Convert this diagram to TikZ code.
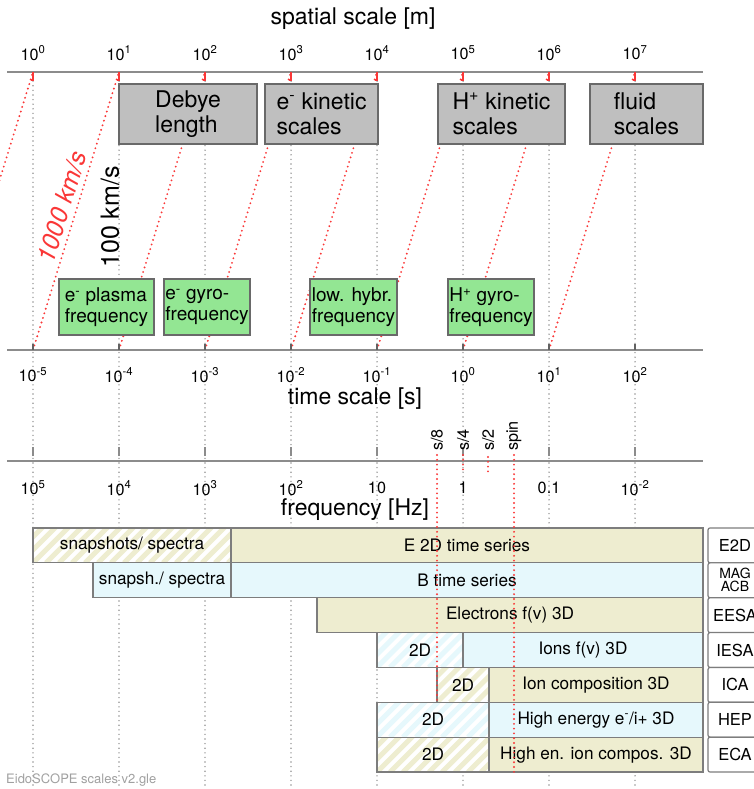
\documentclass[tikz,border=0pt]{standalone}
\usepackage{fontspec}
\setmainfont{TeX Gyre Heros}
\usetikzlibrary{positioning}
\definecolor{scalegray}{RGB}{191,191,191}
\definecolor{freqgreen}{RGB}{147,230,147}
\definecolor{boxline}{RGB}{105,105,105}
\definecolor{barline}{RGB}{125,125,125}
\definecolor{beigefill}{RGB}{238,237,208}
\definecolor{bluefill}{RGB}{230,248,252}
\definecolor{gridgray}{RGB}{150,150,150}
\definecolor{axisgray}{RGB}{140,140,140}
\definecolor{vred}{RGB}{250,55,55}
\definecolor{footgray}{RGB}{160,160,160}
\newcommand{\tenexp}[1]{10\textsuperscript{#1}}

\begin{document}
\begin{tikzpicture}[x=1pt, y=-1pt,
	scalebox/.style={draw=boxline, fill=scalegray, line width=1.2pt, minimum height=60pt, align=left, inner sep=1pt, font=\fontsize{23}{25}\selectfont},
	freqbox/.style={draw=boxline, fill=freqgreen, line width=1.2pt, minimum height=56pt, align=left, inner sep=1pt, font=\fontsize{19}{21}\selectfont},
	instbar/.style={draw=barline, line width=1.2pt, minimum height=34.86pt, inner sep=0pt, font=\fontsize{17.2}{19}\selectfont},
	hatch/.style={fill=white, path picture={\foreach \k in {-4,...,17} \draw[#1, line width=5pt] ([xshift=\k*13pt]path picture bounding box.south west) -- ++(45pt,45pt);}},
	instname/.style={draw=barline, fill=white, line width=1.2pt, rounded corners=2pt, minimum width=54pt, minimum height=34.86pt, inner sep=0pt, align=center, font=\fontsize{16.5}{18}\selectfont},
	gridline/.style={draw=gridgray, line width=1.6pt, line cap=round, dash pattern=on 0pt off 4.6pt},
	redline/.style={draw=vred, line width=2.1pt, line cap=round, dash pattern=on 0pt off 4.8pt},
	scaleaxis/.style={draw=axisgray, line width=1.4pt},
	ticklabel/.style={font=\fontsize{16.2}{18}\selectfont, inner sep=0pt},
	axistitle/.style={font=\fontsize{23}{25}\selectfont, inner sep=0pt},
]
	\useasboundingbox (0,0) rectangle (754,789);
	\clip (0,0) rectangle (754,789);
	% Decade points on the three axes:
	\foreach \k in {0,...,7}{
		\coordinate (s\k) at ({33+86*\k},72);
		\coordinate (t\k) at ({33+86*\k},350);
		\coordinate (f\k) at ({33+86*\k},461);
		\coordinate (b\k) at ({33+86*\k},789);
	}
	\coordinate (tm) at (-53,350);
	\coordinate (axL) at (7,0);
	\coordinate (axR) at (703,0);

	% Grid and velocity lines:
	\foreach \k in {0,...,7} \draw[gridline] (s\k) -- (b\k);
	\draw[redline] (tm) -- (s0);
	\foreach \k/\n in {0/1,1/2,2/3,3/4,4/5,5/6,6/7} \draw[redline] (t\k) -- (s\n);

	% Axes:
	\draw[scaleaxis] (axL |- s0) -- (axR |- s0);
	\draw[scaleaxis] (axL |- t0) -- (axR |- t0);
	\draw[scaleaxis] (axL |- f0) -- (axR |- f0);
	\foreach \k in {0,...,7}{
		\draw[vred, line width=1.2pt] (s\k) -- ++(0,8) -- ++(-2,0);
		\draw[axisgray!70!black, line width=1.1pt] (t\k) -- ++(0,-6);
		\draw[axisgray, line width=1.1pt] ([yshift=5pt]f\k) -- ++(0,-9);
	}
	\node[axistitle] (spacetitle) at (353,19) {spatial scale [m]};
	\node[axistitle] (timetitle) at (355,399) {time scale [s]};
	\node[axistitle] (freqtitle) at (355,510) {frequency [Hz]};
	\foreach \k/\e in {0/0,1/1,2/2,3/3,4/4,5/5,6/6,7/7}
		\node[ticklabel] (sl\k) at ({33+86*\k},53) {\tenexp{\e}};
	\foreach \k/\e in {0/-5,1/-4,2/-3,3/-2,4/-1,5/0,6/1,7/2}
		\node[ticklabel] (tl\k) at ({33+86*\k},375) {\tenexp{\e}};
	\foreach \k/\lab in {0/{\tenexp{5}},1/{\tenexp{4}},2/{\tenexp{3}},3/{\tenexp{2}},4/10,5/1,6/0.1,7/{\tenexp{-2}}}
		\node[ticklabel] (fl\k) at ({33+86*\k},488) {\lab};

	% Scale boxes:
	\node[scalebox, minimum width=138pt] (debye) at (188,114) {Debye\\length};
	\node[scalebox, minimum width=113pt] (ekin) at (321.5,114) {e\textsuperscript{-} kinetic\\scales};
	\node[scalebox, minimum width=127pt] (hkin) at (501.5,114) {H\textsuperscript{+} kinetic\\scales};
	\node[scalebox, minimum width=113pt] (fluid) at (646.5,114) {fluid\\scales};
	\node[freqbox, minimum width=95pt] (eplasma) at (106.5,307) {e\textsuperscript{-} plasma\\frequency};
	\node[freqbox, minimum width=86pt] (egyro) at (207,307) {e\textsuperscript{-} gyro-\\frequency};
	\node[freqbox, minimum width=87pt] (lowhybr) at (353.5,307) {low. hybr.\\frequency};
	\node[freqbox, minimum width=86pt] (hgyro) at (491,307) {H\textsuperscript{+} gyro-\\frequency};
	\node[font=\fontsize{25}{27}\selectfont, rotate=90, inner sep=0pt] (v100) at (110,217) {100 km/s};
	\node[font=\fontsize{25}{27}\selectfont\itshape, text=vred, rotate=72.8, inner sep=0pt] (v1000) at (62,207) {1000 km/s};

	% Instrument bars:
	\node[instbar, hatch=beigefill, minimum width=198pt] (e2dsnap) at (132,545.4) {snapshots/ spectra};
	\node[instbar, fill=beigefill, minimum width=472pt] (e2dts) at (467,545.4) {E 2D time series};
	\node[instbar, fill=bluefill, minimum width=138pt] (magsnap) at (162,580.3) {snapsh./ spectra};
	\node[instbar, fill=bluefill, minimum width=472pt] (magts) at (467,580.3) {B time series};
	\node[instbar, fill=beigefill, minimum width=386pt] (eesa) at (510,615.2) {Electrons f(v) 3D};
	\node[instbar, hatch=bluefill, minimum width=86pt] (iesa2d) at (420,650) {2D};
	\node[instbar, fill=bluefill, minimum width=240pt] (iesa3d) at (583,650) {Ions f(v) 3D};
	\node[instbar, hatch=beigefill, minimum width=52pt] (ica2d) at (463,684.9) {2D};
	\node[instbar, fill=beigefill, minimum width=214pt] (ica3d) at (596,684.9) {Ion composition 3D};
	\node[instbar, hatch=bluefill, minimum width=112pt] (hep2d) at (433,719.7) {2D};
	\node[instbar, fill=bluefill, minimum width=214pt] (hep3d) at (596,719.7) {High energy e\textsuperscript{-}/i+ 3D};
	\node[instbar, hatch=beigefill, minimum width=112pt] (eca2d) at (433,754.6) {2D};
	\node[instbar, fill=beigefill, minimum width=214pt] (eca3d) at (596,754.6) {High en. ion compos. 3D};

	% Spin fractions:
	\node[ticklabel, rotate=90, anchor=west] (s8lab) at (437,451) {s/8};
	\node[ticklabel, rotate=90, anchor=west] (s4lab) at (463,451) {s/4};
	\node[ticklabel, rotate=90, anchor=west] (s2lab) at (488,451) {s/2};
	\node[ticklabel, rotate=90, anchor=west] (spinlab) at (514,451) {spin};
	\coordinate (s8end) at (437,702);
	\coordinate (s4end) at (463,470);
	\coordinate (s2end) at (488,472);
	\coordinate (spinend) at (514,772);
	\draw[redline] ([yshift=-4pt]s8lab.west) -- (s8end);
	\draw[redline] ([yshift=-4pt]s4lab.west) -- (s4end);
	\draw[redline] ([yshift=-6pt]s2lab.west) -- (s2end);
	\draw[redline] ([yshift=-4pt]spinlab.west) -- (spinend);

	% Instrument names:
	\node[instname] (e2dname) at (735,545.4) {E2D};
	\node[instname, font=\fontsize{14}{13}\selectfont] (magname) at (735,580.3) {MAG\\ACB};
	\node[instname] (eesaname) at (735,615.2) {EESA};
	\node[instname] (iesaname) at (735,650) {IESA};
	\node[instname] (icaname) at (735,684.9) {ICA};
	\node[instname] (hepname) at (735,719.7) {HEP};
	\node[instname] (ecaname) at (735,754.6) {ECA};

	\node[font=\fontsize{13}{15}\selectfont, text=footgray, anchor=west, inner sep=0pt] (footer) at (6,780) {EidoSCOPE scales v2.gle};
\end{tikzpicture}
\end{document}
